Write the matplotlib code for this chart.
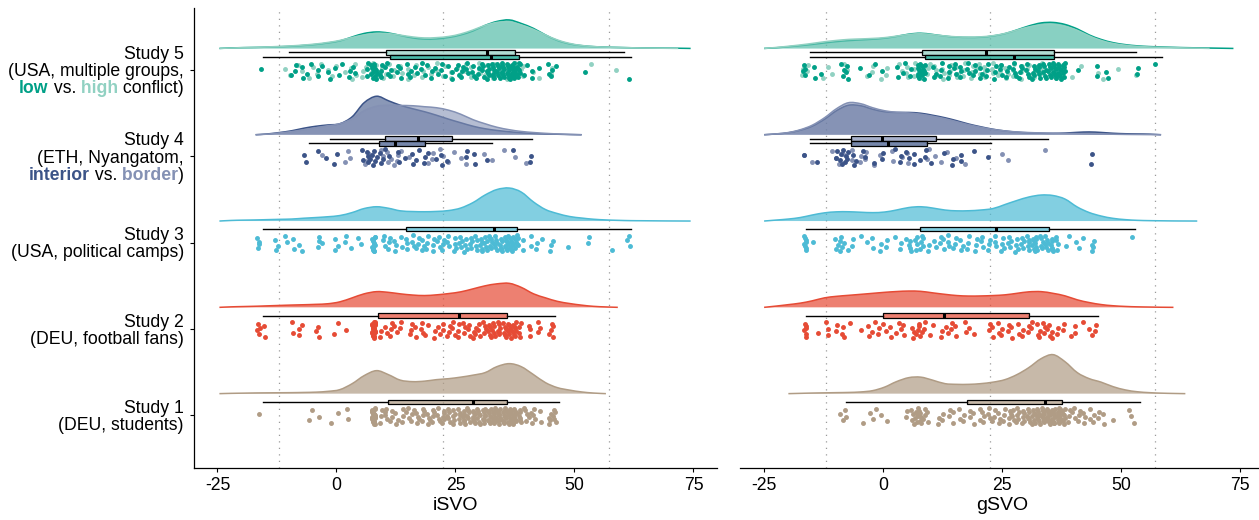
import numpy as np
import matplotlib
matplotlib.use("Agg")
import matplotlib.pyplot as plt
from matplotlib.path import Path
from matplotlib.patches import PathPatch

plt.rcParams['font.family'] = ['Liberation Sans', 'DejaVu Sans']
plt.rcParams['axes.unicode_minus'] = False

n = np.nan
CATS = [1, 2, 3, 4, 5]

# ---------------- density curves (height readings on a common SVO grid) ----
GRID_ISVO = [-24.6, -22.1, -19.6, -17.0, -14.5, -12.0, -9.4, -6.9, -4.3, -1.8, 0.7, 3.3, 5.8, 8.4,
             10.9, 13.4, 16.0, 18.5, 21.0, 23.6, 26.1, 28.7, 31.2, 33.7, 36.3, 38.8, 41.4, 43.9,
             46.4, 49.0, 51.5, 54.0, 56.6, 59.1, 61.7, 64.2, 66.7, 69.3, 71.8, 74.4, 76.9]
GRID_GSVO = [-25.0, -22.4, -19.9, -17.4, -14.9, -12.3, -9.8, -7.3, -4.7, -2.2, 0.3, 2.8, 5.4, 7.9,
             10.4, 13.0, 15.5, 18.0, 20.5, 23.1, 25.6, 28.1, 30.6, 33.2, 35.7, 38.2, 40.8, 43.3,
             45.8, 48.3, 50.9, 53.4, 55.9, 58.4, 61.0, 63.5, 66.0, 68.6, 71.1, 73.6, 76.1]

DENS_S1_ISVO = [0, 0.3, 0.5, 0.7, 0.8, 0.9, 1.0, 1.2, 1.5, 2.3, 4.0, 10, 18, 23, 19, 13.5, 12, 12.5, 14,
                15, 16.5, 18.5, 21, 27, 30, 27, 19, 11, 6, 3.5, 1.7, 0.6, 0] + [n] * 8
DENS_S1_GSVO = [n] * 2 + [0, 0.3, 0.6, 0.8, 1.0, 1.2, 1.7, 3.0, 6.5, 12, 16, 16.5, 13.5, 10, 9.3, 9.3,
                          10, 11.5, 14, 19, 26, 35, 39, 32, 21, 15, 11.5, 7, 3.7, 1.9, 1.0, 0.5, 0.2, 0] + [n] * 5
DENS_S2_ISVO = [0, 0.5, 0.8, 1.1, 1.5, 1.9, 2.3, 2.6, 3.0, 3.6, 5.5, 9.5, 13.5, 15.7, 15, 13.5, 12.3,
                11.8, 12.5, 13.8, 15.5, 18.5, 21.5, 23.5, 24, 20, 13.5, 9.5, 6, 3.8, 2.2, 1.0, 0.4, 0] + [n] * 7
DENS_S2_GSVO = [0, 1.3, 2.7, 4.2, 6.5, 9.5, 11, 12, 13, 14, 15, 15.8, 16.3, 16, 14.5, 13, 11.8, 11.3,
                11.4, 11.8, 12.5, 14, 15.5, 15.7, 14, 11.5, 7.5, 4.8, 2.8, 1.6, 0.9, 0.5, 0.3, 0.1, 0] + [n] * 6
DENS_S3_ISVO = [0, 0.6, 0.9, 1.1, 1.4, 1.7, 2.0, 2.8, 3.5, 4.3, 5.5, 8.5, 12.5, 14.3, 12.8, 10.2, 9.5,
                9.3, 9.6, 10.5, 13, 18.5, 26, 31.5, 33, 29, 19, 11.5, 7.5, 4.5, 3, 1.8, 1.1, 0.7, 0.4,
                0.3, 0.2, 0.1, 0.05, 0] + [n]
DENS_S3_GSVO = [0, 1.0, 2.0, 3.5, 6, 8.2, 9.2, 9.3, 8.8, 8.4, 9.0, 11, 13.5, 14.3, 13, 11, 10.2, 10.3,
                11, 12.5, 16.5, 20.5, 24, 26, 25.5, 22, 14, 8.5, 5, 2.7, 1.4, 0.7, 0.4, 0.25, 0.1,
                0.05, 0] + [n] * 4
DENS_S4_ISVO_INTERIOR = [n] * 3 + [0, 0.8, 2.2, 4, 6.5, 8.5, 9.8, 11, 18, 32, 38.5, 34, 29.5, 26, 23,
                                   19.5, 15.5, 12, 8.5, 6, 4.3, 3, 2, 1.3, 0.8, 0.5, 0.2, 0] + [n] * 10
DENS_S4_ISVO_BORDER = [n] * 3 + [0, 0.6, 1.8, 3.2, 5, 7, 9, 11, 16, 24, 28.5, 29.5, 29.3, 29, 28, 27,
                                 24.5, 20.5, 15, 11, 7.5, 5, 3.3, 2.2, 1.4, 0.8, 0.3, 0] + [n] * 10
DENS_S4_GSVO_INTERIOR = [0, 0.8, 2, 4.5, 8.5, 15.5, 24, 29.5, 29, 25.5, 23, 22.3, 22.3, 21.5, 19.5,
                         17, 14, 10.7, 8, 5.5, 3.8, 2.6, 1.9, 1.5, 1.4, 1.7, 2.4, 2.8, 2.3, 1.5, 1.0,
                         0.8, 0.6, 0] + [n] * 7
DENS_S4_GSVO_BORDER = [0, 0.9, 2.2, 5, 9.5, 17, 26, 32, 31, 27, 24, 22.5, 21.8, 20.5, 18.5, 16, 13,
                       10, 7.5, 5.3, 3.8, 2.8, 2.2, 1.8, 1.5, 1.3, 1.1, 0.9, 0.7, 0.5, 0.3, 0.2, 0.1,
                       0] + [n] * 7
DENS_S5_ISVO_LOW = [0, 0.5, 0.8, 1.0, 1.3, 1.7, 2.2, 3.0, 4.0, 5.5, 7.5, 11.5, 15, 16.5, 15.5, 13,
                    10.5, 9.3, 9.5, 11, 13.5, 17.5, 23, 27, 28.5, 25, 20, 13.5, 8, 4.5, 2.8, 1.8, 1.3,
                    1.0, 0.7, 0.5, 0.4, 0.3, 0.2, 0] + [n]
DENS_S5_ISVO_HIGH = [0, 0.4, 0.8, 1.1, 1.5, 2.0, 2.6, 3.4, 4.5, 6, 8, 11, 13.5, 15, 14.8, 13.3, 11.5,
                     10.5, 10.8, 12, 14.5, 18.5, 23, 26, 26.5, 23.5, 19, 13.5, 8.5, 5, 3, 1.9, 1.3,
                     1.0, 0.7, 0.45, 0.3, 0.15, 0] + [n] * 2
DENS_S5_GSVO_LOW = [0, 0.7, 1.7, 2.8, 4.0, 5.5, 6.8, 7.8, 8.5, 9.2, 10.2, 12, 14.3, 15.2, 14, 12.3,
                    11.3, 11, 11.2, 12.5, 14.8, 18.5, 22.5, 25.5, 26, 24, 19.5, 13.5, 9, 5.8, 3.8,
                    2.6, 1.9, 1.5, 1.1, 0.8, 0.6, 0.4, 0.2, 0] + [n]
DENS_S5_GSVO_HIGH = [0, 1, 2.2, 3.5, 5, 6.7, 8, 9, 9.5, 10, 10.8, 12.3, 14, 14.7, 13.8, 12.5, 11.6,
                     11.3, 11.6, 12.8, 15, 18.3, 21.5, 23.5, 23.8, 22, 18, 12.5, 8, 5, 3.2, 2.1, 1.5,
                     1.1, 0.8, 0.5, 0.3, 0] + [n] * 3

# ---------------- box statistics: [lower whisker, Q1, median, Q3, upper whisker] ----
BOX_S1_ISVO = [-15.5, 10.9, 28.7, 35.9, 46.7]
BOX_S2_ISVO = [-15.5, 8.8, 25.7, 35.9, 45.8]
BOX_S3_ISVO = [-15.5, 14.7, 33.1, 38.0, 61.9]
BOX_S4_ISVO_BORDER = [-1.3, 10.1, 17.2, 24.3, 41.0]
BOX_S4_ISVO_INTERIOR = [-5.7, 8.9, 12.3, 18.5, 32.6]
BOX_S5_ISVO_HIGH = [-10.0, 10.5, 31.6, 37.6, 60.4]
BOX_S5_ISVO_LOW = [-15.5, 11.2, 32.5, 38.4, 61.9]
BOX_S1_GSVO = [-7.8, 17.6, 34.0, 37.6, 53.9]
BOX_S2_GSVO = [-16.2, 0.0, 12.8, 30.7, 45.1]
BOX_S3_GSVO = [-16.2, 7.8, 23.8, 34.9, 52.9]
BOX_S4_GSVO_BORDER = [-15.3, -6.8, -0.3, 11.2, 34.7]
BOX_S4_GSVO_INTERIOR = [-15.3, -6.8, 1.0, 9.2, 22.6]
BOX_S5_GSVO_HIGH = [-15.3, 8.2, 21.6, 35.8, 53.2]
BOX_S5_GSVO_LOW = [-15.3, 8.8, 27.4, 35.9, 58.5]

# ---------------- individual scores (value, count) ----
PTS_S1_ISVO_VALS = [-16.5, -5.8, -5.0, -3.3, -1.3, 0.2, 2.5, 7.8, 9.2, 10.3, 11.4, 12.5, 13.9, 15.0, 16.0,
                    17.1, 18.2, 19.3, 20.3, 21.4, 22.4, 23.5, 24.6, 25.7, 26.7, 27.8, 28.9, 29.9, 31.0,
                    32.1, 33.1, 34.2, 35.3, 36.4, 37.4, 38.5, 39.6, 40.7, 41.7, 42.8, 44.9, 45.8]
PTS_S1_ISVO_CNTS = [1, 1, 1, 1, 1, 1, 2, 28, 3, 4, 3, 3, 3, 3, 3, 4, 4, 4, 4, 4, 5, 5, 5, 5, 6, 6, 7, 7,
                    8, 8, 9, 10, 11, 11, 11, 6, 4, 3, 3, 2, 4, 5]
PTS_S2_ISVO_VALS = [-16.3, -15.3, -9.0, -8.0, -7.2, -4.0, -0.4, 0.7, 1.7, 7.8, 9.2, 10.3, 11.4, 12.5, 13.5,
                    15.7, 16.8, 17.9, 19.0, 20.7, 21.6, 22.4, 23.5, 24.6, 25.7, 26.7, 27.8, 28.9, 29.9,
                    31.0, 32.1, 33.1, 34.2, 35.3, 36.4, 37.4, 38.5, 40.6, 42.1, 42.8, 44.9, 45.6]
PTS_S2_ISVO_CNTS = [4, 2, 2, 2, 1, 3, 1, 1, 1, 28, 2, 2, 3, 2, 2, 3, 2, 3, 2, 2, 2, 2, 3, 3, 3, 3, 3, 4,
                    3, 4, 5, 5, 6, 6, 7, 8, 4, 3, 2, 1, 3, 2]
PTS_S3_ISVO_VALS = [-16.5, -16.0, -13.0, -12.2, -10.5, -9.0, -7.5, -3.8, -3.3, -0.3, 0.7, 1.8, 3.2, 4.8,
                    7.8, 9.9, 11.0, 12.3, 13.4, 14.9, 16.0, 17.1, 18.2, 19.2, 20.3, 21.4, 22.4, 23.5,
                    24.9, 26.0, 27.1, 28.2, 29.3, 30.3, 31.4, 32.4, 33.5, 34.6, 35.7, 36.7, 37.8, 39.3,
                    40.6, 42.1, 43.5, 44.9, 45.6, 48.9, 52.8, 58.1, 61.4]
PTS_S3_ISVO_CNTS = [3, 1, 2, 1, 2, 2, 2, 2, 2, 2, 1, 2, 1, 2, 14, 3, 3, 3, 2, 3, 3, 3, 3, 3, 3, 3, 3, 3,
                    4, 4, 4, 4, 4, 5, 5, 6, 6, 6, 8, 8, 7, 2, 2, 2, 1, 2, 1, 1, 2, 1, 3]
PTS_S4_ISVO_INTERIOR_VALS = [-7.0, -6.5, -3.8, -1.8, -0.8, 0.0, 5.7, 6.5, 7.4, 8.2, 9.2, 10.0, 11.0, 13.2,
                             14.2, 16.0, 17.0, 18.5, 19.5, 20.7, 22.1, 23.5, 27.1, 29.2, 31.4, 37.0, 40.9]
PTS_S4_ISVO_INTERIOR_CNTS = [1, 1, 1, 1, 1, 1, 2, 3, 3, 3, 2, 2, 1, 2, 1, 2, 2, 2, 1, 1, 2, 1, 2, 2, 1, 1, 2]
PTS_S4_ISVO_BORDER_VALS = [-3.3, 1.7, 2.5, 3.2, 5.8, 6.8, 9.6, 10.7, 11.8, 12.8, 13.9, 14.9, 19.2, 20.3,
                           21.4, 22.4, 23.5, 24.9, 26.0, 27.1, 31.0, 33.0, 34.9, 37.3, 39.9]
PTS_S4_ISVO_BORDER_CNTS = [1, 1, 1, 1, 1, 2, 2, 2, 2, 2, 1, 1, 1, 2, 1, 1, 1, 1, 1, 1, 1, 1, 1, 1, 1]
PTS_S5_ISVO_LOW_VALS = [-16.0, -9.5, -8.3, -7.2, -6.1, -5.0, -4.0, -2.9, -1.5, -0.4, 0.7, 1.4, 2.5, 3.5,
                        4.2, 6.4, 7.5, 8.2, 9.3, 10.4, 11.4, 12.5, 13.6, 14.7, 15.7, 16.8, 17.9, 18.9,
                        20.0, 21.1, 22.1, 23.2, 24.3, 25.4, 26.4, 27.5, 28.6, 29.6, 30.7, 31.8, 32.8,
                        33.9, 35.0, 36.1, 37.1, 38.2, 39.6, 41.0, 42.8, 44.2, 45.3, 46.4, 52.1, 61.4]
PTS_S5_ISVO_LOW_CNTS = [1, 1, 2, 2, 1, 1, 2, 1, 2, 1, 1, 1, 2, 1, 1, 3, 6, 6, 4, 3, 2, 2, 2, 2, 2, 2, 2, 2,
                        2, 2, 2, 2, 2, 3, 3, 3, 3, 3, 4, 6, 6, 7, 8, 9, 14, 8, 2, 2, 1, 2, 2, 1, 1, 1]
PTS_S5_ISVO_HIGH_VALS = [-10.9, -9.7, -7.9, -7.0, -6.0, -5.0, -4.0, -3.0, -2.0, -1.0, 0.0, 2.1, 3.0, 4.2,
                         5.3, 6.4, 7.5, 8.5, 9.6, 10.7, 12.0, 13.5, 15.0, 16.5, 18.0, 19.5, 21.0, 22.5,
                         24.0, 25.5, 27.0, 28.5, 30.0, 31.5, 33.0, 34.5, 36.0, 37.5, 39.0, 41.4, 42.8,
                         44.9, 53.5, 58.9]
PTS_S5_ISVO_HIGH_CNTS = [1, 1, 1, 1, 1, 1, 1, 1, 1, 1, 1, 1, 2, 2, 2, 1, 3, 3, 2, 2, 2, 2, 2, 2, 2, 2, 2,
                         2, 2, 2, 2, 2, 3, 3, 4, 4, 4, 5, 3, 1, 1, 2, 1, 1]

PTS_S1_GSVO_VALS = [-9.2, -8.5, -7.8, -7.4, -4.5, -2.8, -2.0, -1.2, -0.6, 0.8, 5.1, 6.2, 7.0, 7.8, 8.6,
                    9.4, 11.5, 12.6, 13.7, 14.8, 15.9, 17.0, 18.0, 19.1, 20.1, 21.2, 22.2, 23.3, 24.4,
                    25.5, 26.5, 27.2, 28.3, 29.4, 30.5, 31.5, 32.6, 33.7, 34.8, 35.8, 36.9, 38.0, 39.0,
                    40.1, 41.2, 42.3, 43.3, 44.4, 45.1, 46.5, 48.0, 51.5, 52.2, 52.9]
PTS_S1_GSVO_CNTS = [1, 1, 1, 1, 1, 1, 1, 1, 1, 1, 2, 4, 6, 5, 3, 2, 2, 2, 2, 2, 2, 2, 2, 2, 2, 3, 3, 3,
                    3, 3, 3, 4, 5, 5, 6, 7, 8, 10, 12, 13, 13, 8, 3, 3, 3, 3, 2, 2, 2, 2, 1, 1, 1, 1]
PTS_S2_GSVO_VALS = [-16.3, -13.5, -11.7, -9.5, -8.5, -6.7, -4.9, -3.1, -2.0, -0.9, 0.3, 1.5, 3.0, 3.7,
                    4.4, 6.2, 7.2, 7.8, 8.7, 10.1, 12.2, 13.3, 14.3, 15.4, 17.2, 18.3, 19.4, 22.2, 23.2,
                    24.1, 25.1, 26.2, 27.2, 28.3, 29.4, 30.4, 31.3, 32.2, 33.0, 33.7, 34.7, 35.6, 36.5,
                    38.0, 39.2, 40.1, 40.4, 42.2, 43.0, 43.8, 44.7]
PTS_S2_GSVO_CNTS = [6, 1, 3, 2, 3, 1, 1, 2, 2, 2, 2, 2, 2, 1, 2, 3, 3, 3, 2, 2, 2, 2, 2, 2, 2, 1, 1, 2,
                    2, 2, 2, 2, 2, 2, 2, 2, 2, 2, 2, 3, 3, 2, 2, 2, 1, 1, 1, 1, 1, 1, 2]
PTS_S3_GSVO_VALS = [-16.3, -14.9, -9.9, -9.2, -8.5, -7.4, -6.3, -4.9, -3.5, -2.1, -0.7, 0.8, 2.2, 3.7,
                    5.1, 5.8, 6.9, 8.0, 9.4, 10.8, 12.0, 13.0, 13.7, 15.1, 16.5, 18.0, 19.4, 20.8, 22.3,
                    23.7, 25.1, 26.5, 28.0, 29.2, 30.4, 31.5, 32.2, 33.3, 34.4, 35.5, 36.5, 38.7, 40.4,
                    41.3, 42.2, 43.7, 44.4, 51.9]
PTS_S3_GSVO_CNTS = [8, 1, 2, 3, 3, 1, 2, 1, 1, 2, 2, 2, 1, 2, 2, 3, 4, 5, 2, 2, 2, 2, 3, 3, 3, 3, 3, 3,
                    3, 3, 4, 4, 4, 4, 5, 5, 5, 5, 6, 6, 4, 2, 1, 1, 1, 2, 2, 1]
PTS_S4_GSVO_INTERIOR_VALS = [-16.7, -13.8, -9.5, -8.8, -8.0, -7.2, -6.3, -5.6, -4.0, -2.0, 0.1, 2.2, 3.7,
                             5.1, 6.5, 8.0, 8.7, 10.1, 13.0, 14.4, 16.5, 18.7, 21.9, 43.7, 44.0]
PTS_S4_GSVO_INTERIOR_CNTS = [1, 1, 2, 3, 3, 2, 2, 1, 2, 1, 2, 1, 2, 2, 2, 1, 2, 1, 1, 2, 2, 1, 1, 1, 1]
PTS_S4_GSVO_BORDER_VALS = [-16.7, -14.9, -10.6, -9.5, -8.5, -6.3, -4.9, -3.5, -2.1, -0.6, 2.2, 3.7, 5.1,
                           9.4, 10.8, 12.2, 13.7, 15.1, 17.2, 25.1, 26.5, 33.8]
PTS_S4_GSVO_BORDER_CNTS = [1, 1, 1, 2, 1, 2, 2, 2, 1, 1, 2, 1, 2, 2, 1, 1, 1, 1, 1, 1, 1, 1]
PTS_S5_GSVO_LOW_VALS = [-16.5, -14.5, -12.8, -8.5, -7.5, -4.9, -2.8, -1.5, -0.4, 3.0, 4.4, 5.8, 7.5, 8.5,
                        10.8, 12.2, 13.6, 15.0, 16.4, 17.8, 19.2, 20.6, 22.0, 23.4, 24.8, 26.2, 27.6,
                        28.9, 30.3, 31.5, 32.7, 33.8, 35.0, 36.1, 37.1, 38.0, 40.8, 45.1, 46.5, 47.2,
                        53.6, 56.9]
PTS_S5_GSVO_LOW_CNTS = [4, 2, 1, 3, 3, 1, 1, 1, 1, 2, 2, 2, 8, 7, 3, 3, 3, 3, 3, 3, 3, 3, 3, 3, 3, 3, 4,
                        4, 4, 5, 5, 6, 6, 8, 9, 6, 1, 2, 1, 1, 2, 1]
PTS_S5_GSVO_HIGH_VALS = [-17.0, -15.6, -12.8, -11.5, -10.6, -7.8, -3.5, -2.0, -0.6, 0.8, 3.7, 5.1, 6.5,
                         8.0, 9.5, 11.0, 12.5, 14.0, 15.5, 17.0, 18.5, 20.0, 21.5, 23.0, 24.5, 26.0,
                         27.5, 29.0, 30.5, 32.0, 33.5, 35.0, 36.5, 38.0, 39.4, 41.5, 45.1, 46.5, 49.0, 52.9]
PTS_S5_GSVO_HIGH_CNTS = [2, 2, 1, 1, 1, 2, 1, 2, 1, 2, 2, 3, 3, 3, 3, 3, 3, 3, 3, 3, 3, 3, 3, 3, 3, 3,
                         3, 3, 3, 3, 3, 3, 3, 2, 1, 1, 1, 1, 1, 1]

SVO_BOUNDARIES = [-12.04, 22.45, 57.15]
X_TICKS = [-25, 0, 25, 50, 75]
X_LABELS = ['iSVO', 'gSVO']

# ---------------- colours ----
C_S1 = '#B09C85'
C_S2 = '#E64B35'
C_S3 = '#4DBBD5'
C_S4_INT = '#3C5488'
C_S4_BOR = '#8491B4'
C_S5_LOW = '#00A087'
C_S5_HIGH = '#91D1C2'

# ---------------- labels ----
STUDY_LABELS = {
    5: ["Study 5", "(USA, multiple groups,",
        [("low", 'bold', C_S5_LOW), (" vs.", 'normal', 'black'), (" high", 'bold', C_S5_HIGH),
         (" conflict)", 'normal', 'black')]],
    4: ["Study 4", "(ETH, Nyangatom,",
        [("interior", 'bold', C_S4_INT), (" vs.", 'normal', 'black'), (" border", 'bold', C_S4_BOR),
         (")", 'normal', 'black')]],
    3: ["Study 3", "(USA, political camps)"],
    2: ["Study 2", "(DEU, football fans)"],
    1: ["Study 1", "(DEU, students)"],
}

for arr in [DENS_S1_ISVO, DENS_S1_GSVO, DENS_S2_ISVO, DENS_S2_GSVO, DENS_S3_ISVO, DENS_S3_GSVO,
            DENS_S4_ISVO_INTERIOR, DENS_S4_ISVO_BORDER, DENS_S4_GSVO_INTERIOR, DENS_S4_GSVO_BORDER,
            DENS_S5_ISVO_LOW, DENS_S5_ISVO_HIGH, DENS_S5_GSVO_LOW, DENS_S5_GSVO_HIGH]:
    assert len(arr) == 41, len(arr)

# ---------------- style constants ----
DSCALE = 1 / 86.3
DENS_OFF = 0.25
BOX_SINGLE = 0.155
BOX_UPPER = 0.205
BOX_LOWER = 0.15
BOX_H = 0.052
PT_SIZE = 12.5
FS = 12.7


def smooth_verts(x, y, base):
    pts = np.column_stack([x, y])
    m = len(pts)
    verts = [pts[0]]
    codes = [Path.MOVETO]
    for i in range(m - 1):
        p0 = pts[max(i - 1, 0)]
        p1 = pts[i]
        p2 = pts[i + 1]
        p3 = pts[min(i + 2, m - 1)]
        c1 = p1 + (p2 - p0) / 6.0
        c2 = p2 - (p3 - p1) / 6.0
        c1[1] = max(c1[1], base)
        c2[1] = max(c2[1], base)
        verts += [c1, c2, p2]
        codes += [Path.CURVE4] * 3
    return verts, codes


def draw_density(ax, grid, heights, base, color, alpha, z):
    g = np.asarray(grid, float)
    h = np.asarray(heights, float)
    m = ~np.isnan(h)
    x = g[m]
    y = base + h[m] * DSCALE
    verts, codes = smooth_verts(x, y, base)
    fv = list(verts) + [(x[-1], base), (x[0], base), (x[0], base)]
    fc = list(codes) + [Path.LINETO, Path.LINETO, Path.CLOSEPOLY]
    ax.add_patch(PathPatch(Path(fv, fc), facecolor=color, alpha=alpha, edgecolor='none', zorder=z))
    ax.add_patch(PathPatch(Path(verts, codes), facecolor='none', edgecolor=color, lw=1.1, zorder=z + 0.1))


def draw_box(ax, stats, ypos, color, z):
    st = [dict(whislo=stats[0], q1=stats[1], med=stats[2], q3=stats[3], whishi=stats[4], fliers=[])]
    kw = dict(positions=[ypos], widths=[BOX_H], patch_artist=True, showcaps=False, showfliers=False,
              boxprops=dict(facecolor=matplotlib.colors.to_rgba(color, 0.7), edgecolor='black', lw=0.9),
              whiskerprops=dict(color='black', lw=1.0),
              medianprops=dict(color='black', lw=2.2, solid_capstyle='butt'),
              zorder=z, manage_ticks=False)
    try:
        ax.bxp(st, orientation='horizontal', **kw)
    except TypeError:
        ax.bxp(st, vert=False, **kw)


def draw_points(ax, vals, cnts, cat, color, z):
    v = np.repeat(np.asarray(vals, float), cnts)
    k = np.arange(1, len(v) + 1)
    uy = (k * 0.6180339887) % 1.0
    ux = (k * 0.7548776662) % 1.0
    ax.scatter(v + (ux - 0.5) * 0.7, cat - 0.01 + (uy - 0.5) * 0.19, s=PT_SIZE, color=color,
               linewidths=0, zorder=z)


W, H = 1259, 520
fig = plt.figure(figsize=(W / 100, H / 100), dpi=100)
ax_w = 523.6 / W
ax_b = (H - 468.3) / H
ax_h = 460 / H
axL = fig.add_axes([193.7 / W, ax_b, ax_w, ax_h])
axR = fig.add_axes([740.3 / W, ax_b, ax_w, ax_h])

panels = [
    (axL, GRID_ISVO,
     {1: DENS_S1_ISVO, 2: DENS_S2_ISVO, 3: DENS_S3_ISVO},
     (DENS_S4_ISVO_INTERIOR, DENS_S4_ISVO_BORDER), (DENS_S5_ISVO_LOW, DENS_S5_ISVO_HIGH),
     {1: BOX_S1_ISVO, 2: BOX_S2_ISVO, 3: BOX_S3_ISVO},
     (BOX_S4_ISVO_INTERIOR, BOX_S4_ISVO_BORDER), (BOX_S5_ISVO_LOW, BOX_S5_ISVO_HIGH),
     {1: (PTS_S1_ISVO_VALS, PTS_S1_ISVO_CNTS), 2: (PTS_S2_ISVO_VALS, PTS_S2_ISVO_CNTS),
      3: (PTS_S3_ISVO_VALS, PTS_S3_ISVO_CNTS)},
     ((PTS_S4_ISVO_INTERIOR_VALS, PTS_S4_ISVO_INTERIOR_CNTS), (PTS_S4_ISVO_BORDER_VALS, PTS_S4_ISVO_BORDER_CNTS)),
     ((PTS_S5_ISVO_LOW_VALS, PTS_S5_ISVO_LOW_CNTS), (PTS_S5_ISVO_HIGH_VALS, PTS_S5_ISVO_HIGH_CNTS)),
     X_LABELS[0]),
    (axR, GRID_GSVO,
     {1: DENS_S1_GSVO, 2: DENS_S2_GSVO, 3: DENS_S3_GSVO},
     (DENS_S4_GSVO_INTERIOR, DENS_S4_GSVO_BORDER), (DENS_S5_GSVO_LOW, DENS_S5_GSVO_HIGH),
     {1: BOX_S1_GSVO, 2: BOX_S2_GSVO, 3: BOX_S3_GSVO},
     (BOX_S4_GSVO_INTERIOR, BOX_S4_GSVO_BORDER), (BOX_S5_GSVO_LOW, BOX_S5_GSVO_HIGH),
     {1: (PTS_S1_GSVO_VALS, PTS_S1_GSVO_CNTS), 2: (PTS_S2_GSVO_VALS, PTS_S2_GSVO_CNTS),
      3: (PTS_S3_GSVO_VALS, PTS_S3_GSVO_CNTS)},
     ((PTS_S4_GSVO_INTERIOR_VALS, PTS_S4_GSVO_INTERIOR_CNTS), (PTS_S4_GSVO_BORDER_VALS, PTS_S4_GSVO_BORDER_CNTS)),
     ((PTS_S5_GSVO_LOW_VALS, PTS_S5_GSVO_LOW_CNTS), (PTS_S5_GSVO_HIGH_VALS, PTS_S5_GSVO_HIGH_CNTS)),
     X_LABELS[1]),
]

single_cols = {1: C_S1, 2: C_S2, 3: C_S3}

for (ax, grid, dsingle, d4, d5, bsingle, b4, b5, psingle, p4, p5, xlab) in panels:
    for xb in SVO_BOUNDARIES:
        ax.axvline(xb, color='#9A9A9A', lw=0.9, linestyle=(0, (1, 4.2)), zorder=0.5)
    # single-group studies
    for c in [1, 2, 3]:
        col = single_cols[c]
        draw_density(ax, grid, dsingle[c], c + DENS_OFF, col, 0.7, 1)
        draw_box(ax, bsingle[c], c + BOX_SINGLE, col, 3)
        draw_points(ax, psingle[c][0], psingle[c][1], c, col, 4)
    # study 4
    draw_density(ax, grid, d4[0], 4 + DENS_OFF, C_S4_INT, 0.6, 1)
    draw_density(ax, grid, d4[1], 4 + DENS_OFF, C_S4_BOR, 0.6, 1.2)
    draw_box(ax, b4[1], 4 + BOX_UPPER, C_S4_BOR, 3)
    draw_box(ax, b4[0], 4 + BOX_LOWER, C_S4_INT, 3)
    draw_points(ax, p4[1][0], p4[1][1], 4, C_S4_BOR, 4)
    draw_points(ax, p4[0][0], p4[0][1], 4, C_S4_INT, 4.1)
    # study 5
    draw_density(ax, grid, d5[0], 5 + DENS_OFF, C_S5_LOW, 0.5, 1)
    draw_density(ax, grid, d5[1], 5 + DENS_OFF, C_S5_HIGH, 0.5, 1.2)
    draw_box(ax, b5[1], 5 + BOX_UPPER, C_S5_HIGH, 3)
    draw_box(ax, b5[0], 5 + BOX_LOWER, C_S5_LOW, 3)
    draw_points(ax, p5[1][0], p5[1][1], 5, C_S5_HIGH, 4)
    draw_points(ax, p5[0][0], p5[0][1], 5, C_S5_LOW, 4.1)

    ax.set_xlim(-30, 80)
    ax.set_ylim(0.385, 5.715)
    ax.set_xticks(X_TICKS)
    ax.set_xticklabels([str(t) for t in X_TICKS], fontsize=FS)
    ax.set_xlabel(xlab, fontsize=14, labelpad=2)
    ax.tick_params(axis='x', length=3.2, width=0.8, pad=3, colors='black')
    for s in ['top', 'right']:
        ax.spines[s].set_visible(False)
    ax.spines['bottom'].set_linewidth(0.9)
    ax.set_facecolor('none')

axL.set_yticks(CATS)
axL.set_yticklabels([])
axL.tick_params(axis='y', length=3.2, width=0.8)
axL.spines['left'].set_linewidth(0.9)
axR.spines['left'].set_visible(False)
axR.set_yticks([])

# y labels (multi-line, with coloured words)
fig.canvas.draw()
renderer = fig.canvas.get_renderer()
LS = 12.3 * 100 / 72.0     # line spacing in px
BASE_SHIFT = -6.2          # baseline below line centre in px
X_PAD = -9.7
for cat, lines in STUDY_LABELS.items():
    nl = len(lines)
    for k, line in enumerate(lines):
        dy = ((nl - 1) / 2.0 - k) * LS + BASE_SHIFT
        pieces = [(line, 'normal', 'black')] if isinstance(line, str) else line
        xoff = X_PAD
        for txt, wt, col in reversed(pieces):
            t = axL.annotate(txt, xy=(0, cat), xycoords=axL.get_yaxis_transform(),
                             xytext=(xoff, dy), textcoords='offset pixels', ha='right',
                             va='baseline', fontsize=FS, fontweight=wt, color=col,
                             annotation_clip=False)
            xoff -= t.get_window_extent(renderer).width

fig.savefig('out.png', dpi=100)
